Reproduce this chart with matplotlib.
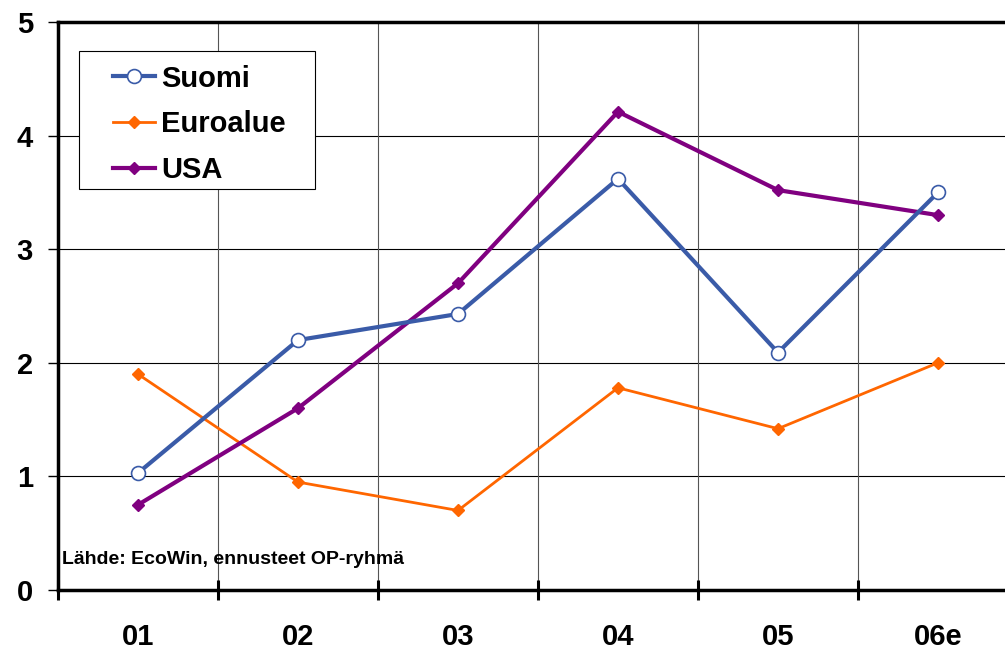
import matplotlib
matplotlib.use("Agg")
import matplotlib.pyplot as plt
from matplotlib.ticker import FixedLocator
from matplotlib.patches import Rectangle

categories = ["01", "02", "03", "04", "05", "06e"]
suomi = [1.03, 2.20, 2.43, 3.62, 2.09, 3.50]
euroalue = [1.90, 0.95, 0.70, 1.78, 1.42, 2.00]
usa = [0.75, 1.60, 2.70, 4.21, 3.52, 3.30]
source_note = "Lähde: EcoWin, ennusteet OP-ryhmä"

plt.rcParams['font.family'] = ['Liberation Sans', 'DejaVu Sans']

fig = plt.figure(figsize=(10.05, 6.5), dpi=100)
ax = fig.add_axes([58/1005, 60/650, 960/1005, 568/650])

x = list(range(len(categories)))
ax.plot(x, suomi, color='#3A5BA8', lw=3.0, marker='o', ms=10, mfc='white',
        mec='#3A5BA8', mew=1.2, label='Suomi', zorder=4)
ax.plot(x, euroalue, color='#FF6600', lw=2.0, marker='D', ms=6.5, mfc='#FF6600',
        mec='#FF6600', label='Euroalue', zorder=3)
ax.plot(x, usa, color='#800080', lw=3.0, marker='D', ms=6.5, mfc='#800080',
        mec='#800080', label='USA', zorder=3)

ax.set_xlim(-0.5, len(categories) - 0.5)
ax.set_ylim(0, 5)
ax.set_yticks([0, 1, 2, 3, 4, 5])
ax.set_xticks(x)
ax.set_xticklabels(categories)
ax.xaxis.set_minor_locator(FixedLocator([i - 0.5 for i in range(len(categories) + 1)]))

ax.tick_params(axis='x', which='major', length=0, pad=24, labelsize=21)
ax.tick_params(axis='x', which='minor', direction='inout', length=15, width=2.2, color='black')
ax.tick_params(axis='y', which='major', direction='out', length=7, width=1, pad=11, labelsize=21)
for lab in ax.get_xticklabels() + ax.get_yticklabels():
    lab.set_fontweight('bold')

ax.grid(False)
for yv in [1, 2, 3, 4]:
    ax.axhline(yv, color='black', lw=0.8, zorder=1)
for xv in [i - 0.5 for i in range(1, len(categories))]:
    ax.axvline(xv, color='#555555', lw=0.8, zorder=1)

for s in ['left', 'top', 'bottom']:
    ax.spines[s].set_linewidth(2.5)
    ax.spines[s].set_color('black')
ax.spines['right'].set_visible(False)

# legend box
box = Rectangle((0.0219, 0.706), 0.2458, 0.243, transform=ax.transAxes,
                facecolor='white', edgecolor='black', lw=0.8, zorder=5)
ax.add_patch(box)
leg = ax.legend(loc='upper left', bbox_to_anchor=(0.0573, 0.925), borderaxespad=0,
                frameon=False, prop={'weight': 'bold', 'size': 21}, handlelength=1.45,
                handletextpad=0.2, labelspacing=0.61, borderpad=0)
leg.set_zorder(6)

ax.text(0.004, 0.053, source_note, transform=ax.transAxes, fontsize=14,
        fontweight='bold', ha='left', va='center')

fig.savefig('out.png', dpi=100)
